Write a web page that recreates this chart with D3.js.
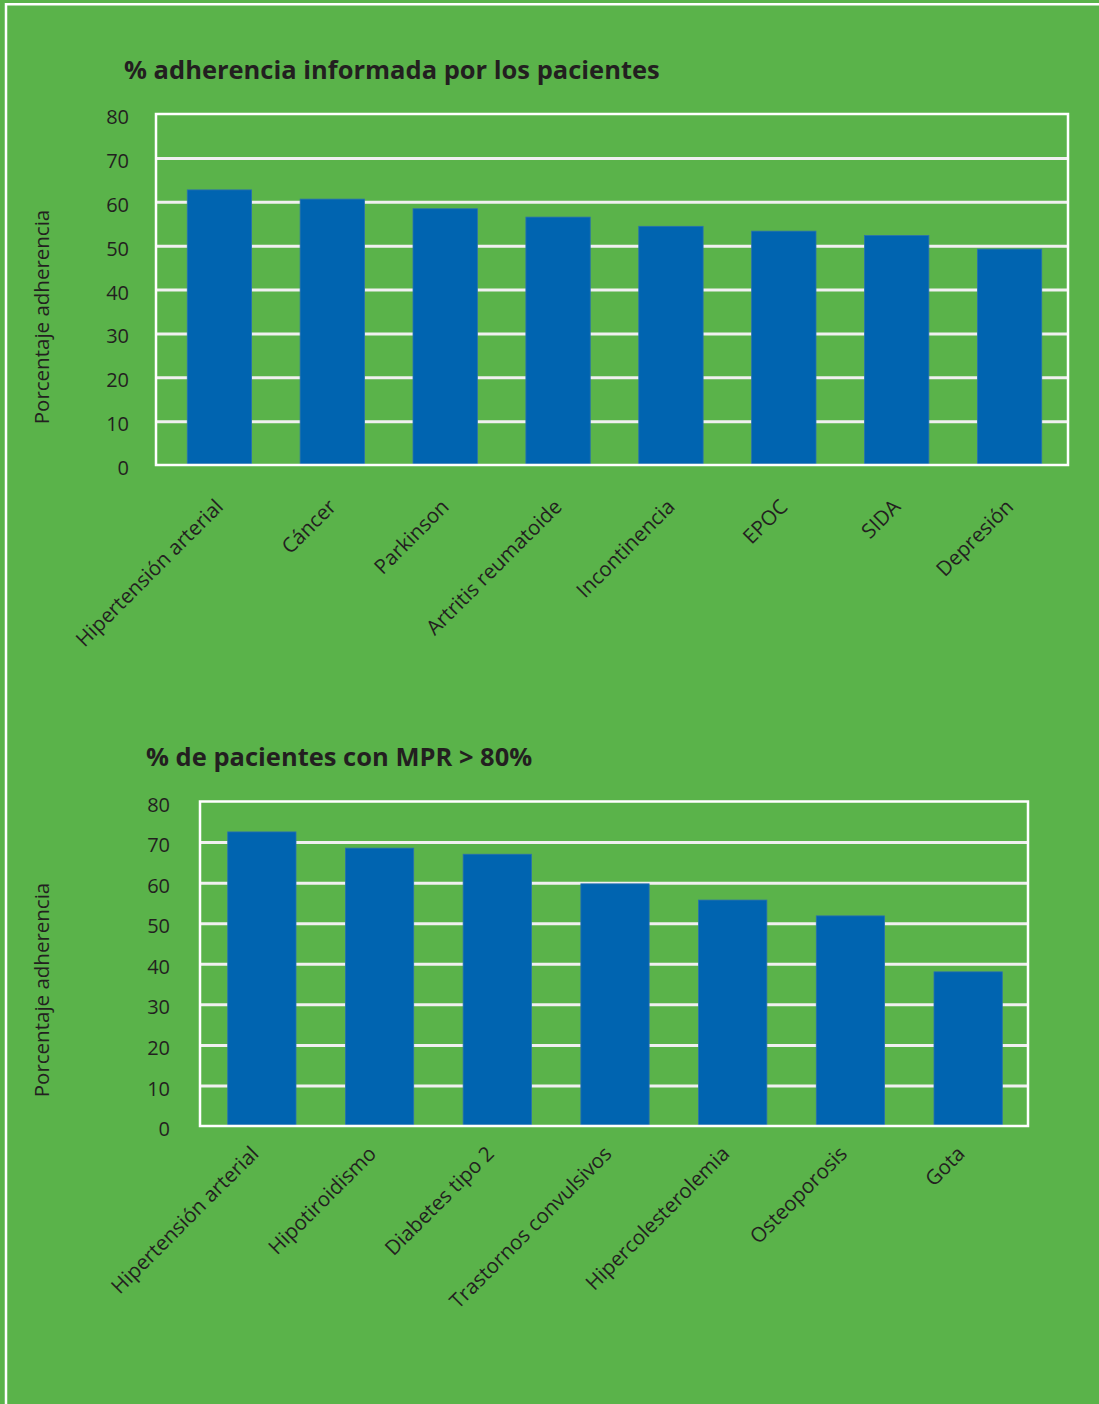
<!DOCTYPE html>
<html>
<head>
<meta charset="utf-8">
<script src="https://cdnjs.cloudflare.com/ajax/libs/d3/7.8.5/d3.min.js"></script>
<style>
  html, body { margin: 0; padding: 0; background: #5ab34a; }
  svg { display: block; }
  text { font-family: "Open Sans", "Noto Sans", sans-serif; fill: #231f20; }
</style>
</head>
<body>
<div id="chart"></div>
<script>
// data
var cats1 = ["Hipertensión arterial", "Cáncer", "Parkinson", "Artritis reumatoide",
             "Incontinencia", "EPOC", "SIDA", "Depresión"];
var vals1 = [62.7, 60.6, 58.4, 56.5, 54.4, 53.3, 52.3, 49.2];

var cats2 = ["Hipertensión arterial", "Hipotiroidismo", "Diabetes tipo 2", "Trastornos convulsivos",
             "Hipercolesterolemia", "Osteoporosis", "Gota"];
var vals2 = [72.5, 68.5, 67, 59.7, 55.7, 51.8, 38];

var yTicks = [0, 10, 20, 30, 40, 50, 60, 70, 80];

var title1 = "% adherencia informada por los pacientes";
var title2 = "% de pacientes con MPR > 80%";
var yLabel = "Porcentaje adherencia";

var W = 1099, H = 1404;
var green = "#5ab34a", blue = "#0064b0";

var svg = d3.select("#chart").append("svg")
    .attr("width", W)
    .attr("height", H);

svg.append("rect").attr("width", W).attr("height", H).attr("fill", green);

// page frame (top and left)
svg.append("path")
    .attr("d", "M6," + H + "V4.3H" + W)
    .attr("fill", "none")
    .attr("stroke", "#fff")
    .attr("stroke-width", 2.5);

function drawChart(cfg) {
    var x = d3.scaleBand()
        .domain(cfg.cats)
        .range([cfg.bandL, cfg.bandR])
        .paddingInner(cfg.pad)
        .paddingOuter(cfg.pad / 2);

    var y = d3.scaleLinear()
        .domain([0, 80])
        .range([cfg.bottom, cfg.top]);

    var g = svg.append("g");

    // gridlines
    g.append("g")
        .attr("transform", "translate(" + cfg.left + ",0)")
        .call(d3.axisLeft(y).tickValues(yTicks.slice(1, -1))
            .tickSize(-(cfg.right - cfg.left))
            .tickFormat(""))
        .call(function (a) {
            a.select(".domain").remove();
            a.selectAll("line").attr("stroke", "#f0f0f0").attr("stroke-width", 3);
        });

    // bars
    g.append("g")
        .selectAll("rect")
        .data(cfg.vals)
        .enter()
        .append("rect")
        .attr("x", function (d, i) { return x(cfg.cats[i]); })
        .attr("width", x.bandwidth())
        .attr("y", function (d) { return y(d); })
        .attr("height", function (d) { return y(0) - y(d) - 1; })
        .attr("fill", blue)
        .attr("stroke", "#2a70b0")
        .attr("stroke-width", 0.8);

    // plot frame
    g.append("rect")
        .attr("x", cfg.left)
        .attr("y", cfg.top)
        .attr("width", cfg.right - cfg.left)
        .attr("height", cfg.bottom - cfg.top)
        .attr("fill", "none")
        .attr("stroke", "#fff")
        .attr("stroke-width", 2.5);

    // y tick labels
    g.append("g")
        .attr("transform", "translate(" + cfg.tickX + ",0)")
        .call(d3.axisLeft(y).tickValues(yTicks).tickSize(0).tickPadding(0))
        .call(function (a) {
            a.select(".domain").remove();
            a.selectAll("text")
                .attr("fill", "#231f20")
                .style("font-size", "20px")
                .attr("dy", "0.48em");
        });

    // x category labels
    g.append("g")
        .attr("transform", "translate(0," + cfg.bottom + ")")
        .call(d3.axisBottom(x).tickSize(0))
        .call(function (a) {
            a.select(".domain").remove();
            a.selectAll("text")
                .attr("fill", "#231f20")
                .style("font-size", "20.5px")
                .style("text-anchor", "end")
                .attr("x", 0).attr("y", 0).attr("dy", 0)
                .attr("transform", "translate(" + cfg.labDx + "," + cfg.labDy + ") rotate(-45)");
        });

    // title
    svg.append("text")
        .attr("x", cfg.titleX)
        .attr("y", cfg.titleY)
        .style("font-size", "25.5px")
        .style("font-weight", "bold")
        .text(cfg.title);

    // y axis label
    svg.append("text")
        .attr("transform", "translate(49," + cfg.yLabY + ") rotate(-90)")
        .style("text-anchor", "middle")
        .style("font-size", "20.5px")
        .text(yLabel);
}

drawChart({
    cats: cats1, vals: vals1,
    left: 156, right: 1068, top: 114, bottom: 465,
    bandL: 163, bandR: 1066, pad: 0.43,
    tickX: 129, labDx: 5, labDy: 43,
    title: title1, titleX: 124, titleY: 79,
    yLabY: 317
});

drawChart({
    cats: cats2, vals: vals2,
    left: 200, right: 1028, top: 801.5, bottom: 1126,
    bandL: 203, bandR: 1027, pad: 0.42,
    tickX: 170, labDx: -2, labDy: 29,
    title: title2, titleX: 146, titleY: 766,
    yLabY: 990
});
</script>
</body>
</html>
